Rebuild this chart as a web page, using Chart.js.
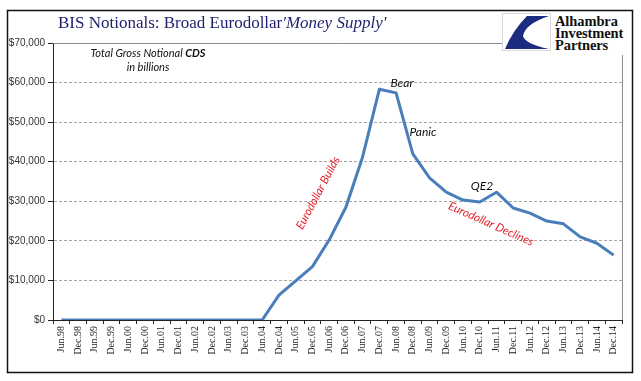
<!DOCTYPE html>
<html>
<head>
<meta charset="utf-8">
<script src="https://cdn.jsdelivr.net/npm/chart.js@4/dist/chart.umd.min.js"></script>
<style>
  html, body { margin: 0; padding: 0; background: #fff; }
  #wrap { position: relative; width: 641px; height: 381px; overflow: hidden; }
  #c { position: absolute; left: 0; top: 0; }
  #title { position: absolute; left: 58px; top: 13px; white-space: nowrap;
    font-family: "Liberation Serif", "DejaVu Serif", serif; font-size: 17px; color: #1f1f6e; }
  #title i { font-style: italic; }
  #logoBg { position: absolute; left: 502px; top: 12px; width: 126px; height: 43px; background: #fff; }
  #logoBox { position: absolute; left: 502px; top: 13px; width: 47px; height: 36px; border: 1px solid #d8d8d8; background: #fff; }
  #logoText { position: absolute; left: 555px; top: 15px; font-family: "Liberation Serif", serif;
    font-size: 14.5px; line-height: 12px; color: #111; font-weight: bold; white-space: nowrap; letter-spacing: -0.1px; }
</style>
</head>
<body>
<div id="wrap">
  <canvas id="c" width="641" height="381"></canvas>
  <div id="title">BIS Notionals: Broad Eurodollar<i>'Money Supply'</i></div>
  <div id="logoBg"></div>
  <div id="logoBox">
    <svg width="47" height="36" viewBox="0 0 47 36">
      <path d="M46,2 L24,2 Q10,16 2,35 L46,35 Q22,30 20,22 Q22,10 46,2 Z" fill="#1c2a80"/>
    </svg>
  </div>
  <div id="logoText">Alhambra<br>Investment<br>Partners</div>
</div>
<script>
const categories = ['Jun.98','Dec.98','Jun.99','Dec.99','Jun.00','Dec.00','Jun.01','Dec.01','Jun.02','Dec.02',
  'Jun.03','Dec.03','Jun.04','Dec.04','Jun.05','Dec.05','Jun.06','Dec.06','Jun.07','Dec.07','Jun.08','Dec.08',
  'Jun.09','Dec.09','Jun.10','Dec.10','Jun.11','Dec.11','Jun.12','Dec.12','Jun.13','Dec.13','Jun.14','Dec.14'];
const cdsNotional = [0,0,0,0,0,0,0,0,0,0,0,0,0,
  6300, 9900, 13500, 20200, 28500, 41200, 58300, 57400, 42000, 35900, 32300, 30300, 29800,
  32300, 28300, 27000, 25000, 24300, 21000, 19400, 16400];
const yTicks = [0,10000,20000,30000,40000,50000,60000,70000];

const framePlugin = {
  id: 'frame',
  beforeDraw(chart) {
    const ctx = chart.ctx;
    ctx.save();
    ctx.fillStyle = '#fff';
    ctx.fillRect(0, 0, chart.width, chart.height);
    ctx.strokeStyle = '#111';
    ctx.lineWidth = 1.5;
    ctx.strokeRect(7.5, 10.5, 625, 362);
    ctx.restore();
  },
  afterDraw(chart) {
    const ctx = chart.ctx, a = chart.chartArea;
    ctx.save();
    ctx.strokeStyle = '#8c8c8c';
    ctx.lineWidth = 1;
    ctx.beginPath();
    ctx.moveTo(a.left, Math.round(a.top) + 0.5);
    ctx.lineTo(Math.round(a.right) + 0.5, Math.round(a.top) + 0.5);
    ctx.lineTo(Math.round(a.right) + 0.5, a.bottom);
    ctx.stroke();
    ctx.restore();
  }
};

const notesPlugin = {
  id: 'notes',
  afterDatasetsDraw(chart) {
    const ctx = chart.ctx;
    ctx.save();
    ctx.textBaseline = 'middle';
    const f1 = 'italic 11px Lato, "Open Sans", sans-serif';
    const f2 = 'italic bold 11px Lato, "Open Sans", sans-serif';
    ctx.fillStyle = '#111';
    ctx.font = f1; const w1 = ctx.measureText('Total Gross Notional ').width;
    ctx.font = f2; const w2 = ctx.measureText('CDS').width;
    let x0 = 148 - (w1 + w2) / 2;
    ctx.textAlign = 'left';
    ctx.font = f1; ctx.fillText('Total Gross Notional ', x0, 53);
    ctx.font = f2; ctx.fillText('CDS', x0 + w1, 53);
    ctx.font = f1; ctx.textAlign = 'center';
    ctx.fillText('in billions', 148, 67);

    ctx.font = 'italic 12px Lato, "Open Sans", sans-serif';
    ctx.fillText('Bear', 402, 83);
    ctx.fillText('Panic', 423, 132);
    ctx.fillText('QE2', 482, 186);

    ctx.fillStyle = '#e3242b';
    ctx.font = 'italic 11.5px Lato, "Open Sans", sans-serif';
    ctx.save();
    ctx.translate(318, 193);
    ctx.rotate(-62 * Math.PI / 180);
    ctx.fillText('Eurodollar Builds', 0, 0);
    ctx.restore();
    ctx.save();
    ctx.translate(491, 224);
    ctx.rotate(24 * Math.PI / 180);
    ctx.fillText('Eurodollar Declines', 0, 0);
    ctx.restore();
    ctx.restore();
  }
};

new Chart(document.getElementById('c'), {
  type: 'line',
  data: {
    labels: categories,
    datasets: [{
      data: cdsNotional,
      borderColor: '#4a7ebb',
      borderWidth: 3,
      pointRadius: 0,
      tension: 0,
      fill: false,
      borderJoinStyle: 'round'
    }]
  },
  options: {
    responsive: false,
    animation: false,
    devicePixelRatio: 1,
    layout: { padding: { top: 43, right: 19, left: 0, bottom: 0 } },
    plugins: { legend: { display: false }, tooltip: { enabled: false } },
    scales: {
      x: {
        type: 'category',
        offset: true,
        grid: { display: true, offset: true, drawOnChartArea: false, drawTicks: true, tickLength: 4, color: '#222', tickColor: '#222' },
        border: { display: true, color: '#222', width: 1 },
        ticks: { autoSkip: false, maxRotation: 90, minRotation: 90, padding: 2,
          font: { family: '"Liberation Serif", serif', size: 10 }, color: '#222' },
        afterFit(scale) { scale.height = 61; }
      },
      y: {
        min: 0, max: 70000,
        afterBuildTicks(scale) { scale.ticks = yTicks.map(v => ({ value: v })); },
        grid: {
          color: (c) => (c.tick && (c.tick.value === 0 || c.tick.value === 70000)) ? 'rgba(0,0,0,0)' : '#a6a6a6',
          tickColor: '#222', tickLength: 5, drawTicks: true
        },
        border: { display: true, color: '#222', width: 1, dash: [3, 2] },
        ticks: {
          padding: 3,
          font: { family: '"Liberation Sans", sans-serif', size: 10 }, color: '#333',
          callback: (v) => '$' + Number(v).toLocaleString('en-US')
        },
        afterFit(scale) { scale.width = 53; }
      }
    }
  },
  plugins: [framePlugin, notesPlugin]
});
</script>
</body>
</html>
